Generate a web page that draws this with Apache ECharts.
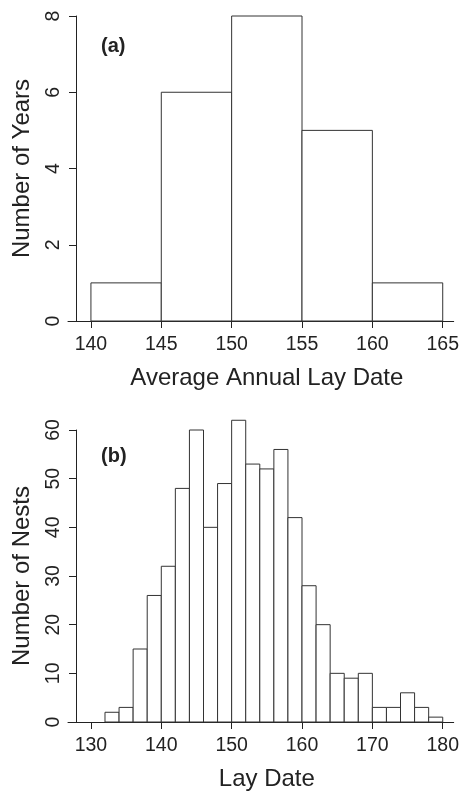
<!DOCTYPE html>
<html>
<head>
<meta charset="utf-8">
<script src="https://cdn.jsdelivr.net/npm/echarts@6/dist/echarts.min.js"></script>
<style>
html,body{margin:0;padding:0;background:#fff;}
#chart{width:462px;height:792px;}
</style>
</head>
<body>
<div id="chart"></div>
<script>
// Panel (a): average annual lay date histogram (bin edges, counts)
var binsA = [140, 145, 150, 155, 160, 165];
var countsA = [1, 6, 8, 5, 1];
var xTicksA = [140, 145, 150, 155, 160, 165];
var yTicksA = [0, 2, 4, 6, 8];

// Panel (b): lay date histogram (bin edges, counts)
var binsB = [132, 134, 136, 138, 140, 142, 144, 146, 148, 150, 152, 154, 156, 158, 160, 162, 164, 166, 168, 170, 172, 174, 176, 178, 180];
var countsB = [2, 3, 15, 26, 32, 48, 60, 40, 49, 62, 53, 52, 56, 42, 28, 20, 10, 9, 10, 3, 3, 6, 3, 1];
var xTicksB = [130, 140, 150, 160, 170, 180];
var yTicksB = [0, 10, 20, 30, 40, 50, 60];

function toRows(bins, counts) {
  var rows = [];
  for (var i = 0; i < counts.length; i++) rows.push([bins[i], bins[i + 1], counts[i]]);
  return rows;
}

var FONT = "'Liberation Sans', Arial, sans-serif";
var TXT = '#222';

function renderBar(params, api) {
  var p0 = api.coord([api.value(0), 0]);
  var p1 = api.coord([api.value(1), api.value(2)]);
  return {
    type: 'rect',
    shape: { x: p0[0], y: p1[1], width: p1[0] - p0[0], height: p0[1] - p1[1] },
    style: { fill: '#fff', stroke: '#333', lineWidth: 1 }
  };
}

function xAxisCfg(gridIndex, min, max, ticks, name) {
  return {
    type: 'value', gridIndex: gridIndex, min: min, max: max,
    splitLine: { show: false },
    axisLine: { show: true, lineStyle: { color: '#222', width: 1 } },
    axisTick: { show: true, length: 7, customValues: ticks, lineStyle: { color: '#222' } },
    axisLabel: { customValues: ticks, margin: 14, fontSize: 19.5, color: TXT, fontFamily: FONT },
    name: name, nameLocation: 'middle', nameGap: 45,
    nameTextStyle: { fontSize: 24, color: TXT, fontFamily: FONT, padding: [0, 0, 0, 12] }
  };
}

function yAxisCfg(gridIndex, max, ticks, interval, name) {
  return {
    type: 'value', gridIndex: gridIndex, min: 0, max: max, interval: interval,
    offset: -8,
    splitLine: { show: false },
    axisLine: { show: true, lineStyle: { color: '#222', width: 1 } },
    axisTick: { show: true, length: 7, lineStyle: { color: '#222' } },
    axisLabel: { rotate: 90, margin: 12, fontSize: 19.5, color: TXT, fontFamily: FONT },
    name: name, nameLocation: 'middle', nameGap: 42, nameRotate: 90,
    nameTextStyle: { fontSize: 24, color: TXT, fontFamily: FONT }
  };
}

var chart = echarts.init(document.getElementById('chart'), null, { renderer: 'canvas' });
chart.setOption({
  animation: false,
  backgroundColor: '#fff',
  title: [
    { text: '(a)', left: 96, top: 31, textStyle: { fontSize: 20, fontWeight: 'bold', color: TXT, fontFamily: FONT } },
    { text: '(b)', left: 96, top: 441, textStyle: { fontSize: 20, fontWeight: 'bold', color: TXT, fontFamily: FONT } }
  ],
  grid: [
    { left: 68, right: 7, top: 16, height: 305 },
    { left: 68, right: 7, top: 430, height: 294 }
  ],
  xAxis: [
    xAxisCfg(0, 140 - 23 / 14.12, 165 + 11 / 14.12, xTicksA, 'Average Annual Lay Date'),
    xAxisCfg(1, 130 - 23 / 7.06, 180 + 11 / 7.06, xTicksB, 'Lay Date')
  ],
  yAxis: [
    yAxisCfg(0, yTicksA[yTicksA.length - 1], yTicksA, 2, 'Number of Years'),
    yAxisCfg(1, yTicksB[yTicksB.length - 1], yTicksB, 10, 'Number of Nests')
  ],
  series: [
    { type: 'custom', xAxisIndex: 0, yAxisIndex: 0, renderItem: renderBar, clip: false,
      encode: { x: [0, 1], y: 2 }, data: toRows(binsA, countsA) },
    { type: 'custom', xAxisIndex: 1, yAxisIndex: 1, renderItem: renderBar, clip: false,
      encode: { x: [0, 1], y: 2 }, data: toRows(binsB, countsB) }
  ]
});
</script>
</body>
</html>
